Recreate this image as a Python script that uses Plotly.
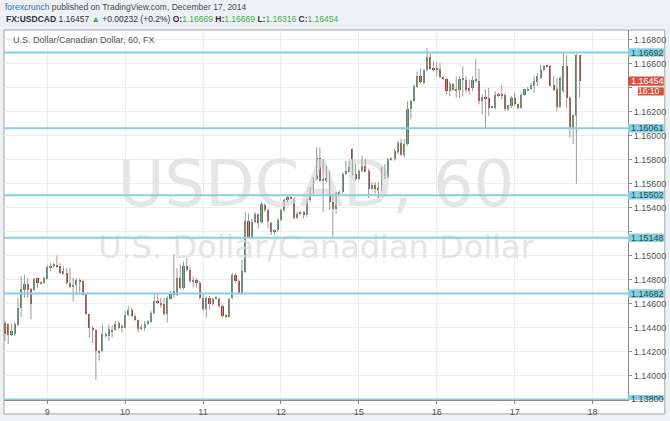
import plotly.graph_objects as go

# ---------------- data (USD/CAD, 60-minute candles, Dec 8-17 2014) ----------------
opens = [1.14441, 1.14426, 1.14338, 1.14344, 1.14421, 1.14559, 1.14716, 1.14763, 1.14724, 1.14716,
         1.14812, 1.14763, 1.14771, 1.14807, 1.14901, 1.14909, 1.14923, 1.14909, 1.14867, 1.14854,
         1.14771, 1.14735, 1.14752, 1.14799, 1.14790, 1.14680, 1.14509, 1.14399, 1.14382, 1.14206,
         1.14206, 1.14330, 1.14330, 1.14377, 1.14377, 1.14399, 1.14413, 1.14399, 1.14504, 1.14542,
         1.14495, 1.14459, 1.14385, 1.14399, 1.14426, 1.14448, 1.14523, 1.14619, 1.14606, 1.14597,
         1.14509, 1.14641, 1.14674, 1.14674, 1.14812, 1.14730, 1.14914, 1.14881, 1.14785, 1.14799,
         1.14771, 1.14647, 1.14550, 1.14647, 1.14597, 1.14639, 1.14641, 1.14578, 1.14504, 1.14487,
         1.14647, 1.14840, 1.14785, 1.14688, 1.14862, 1.15286, 1.15157, 1.15281, 1.15342, 1.15281,
         1.15424, 1.15377, 1.15275, 1.15193, 1.15212, 1.15295, 1.15377, 1.15460, 1.15488, 1.15474,
         1.15314, 1.15363, 1.15363, 1.15336, 1.15460, 1.15543, 1.15639, 1.15810, 1.15625, 1.15625,
         1.15639, 1.15446, 1.15391, 1.15515, 1.15529, 1.15681, 1.15700, 1.15887, 1.15681, 1.15634,
         1.15708, 1.15749, 1.15708, 1.15557, 1.15589, 1.15562, 1.15543, 1.15645, 1.15653, 1.15799,
         1.15805, 1.15860, 1.15937, 1.15838, 1.15929, 1.16218, 1.16287, 1.16406, 1.16494, 1.16439,
         1.16543, 1.16659, 1.16563, 1.16549, 1.16555, 1.16488, 1.16472, 1.16370, 1.16433, 1.16389,
         1.16378, 1.16466, 1.16466, 1.16397, 1.16397, 1.16472, 1.16453, 1.16287, 1.16323, 1.16315,
         1.16232, 1.16232, 1.16342, 1.16342, 1.16342, 1.16218, 1.16246, 1.16315, 1.16259, 1.16232,
         1.16334, 1.16378, 1.16384, 1.16411, 1.16444, 1.16480, 1.16549, 1.16582, 1.16582, 1.16425,
         1.16384, 1.16240, 1.16370, 1.16582, 1.16315, 1.16067, 1.16163, 1.16669]
highs = [1.14454, 1.14432, 1.14432, 1.14441, 1.14647, 1.14826, 1.14840, 1.14812, 1.14730, 1.14812,
         1.14818, 1.14785, 1.14826, 1.14923, 1.14936, 1.14936, 1.15000, 1.14936, 1.14909, 1.14895,
         1.14895, 1.14812, 1.14812, 1.14807, 1.14799, 1.14688, 1.14509, 1.14413, 1.14385, 1.14210,
         1.14426, 1.14357, 1.14426, 1.14413, 1.14454, 1.14454, 1.14426, 1.14537, 1.14578, 1.14564,
         1.14509, 1.14468, 1.14426, 1.14454, 1.14459, 1.14537, 1.14674, 1.14674, 1.14647, 1.14647,
         1.14661, 1.14702, 1.15011, 1.14895, 1.14923, 1.14950, 1.14978, 1.14909, 1.14826, 1.14812,
         1.14785, 1.14688, 1.14661, 1.14661, 1.14652, 1.14661, 1.14652, 1.14592, 1.14509, 1.14647,
         1.14854, 1.14854, 1.14799, 1.14964, 1.15364, 1.15350, 1.15308, 1.15363, 1.15350, 1.15446,
         1.15432, 1.15391, 1.15281, 1.15220, 1.15308, 1.15391, 1.15474, 1.15496, 1.15496, 1.15479,
         1.15363, 1.15369, 1.15369, 1.15474, 1.15570, 1.15653, 1.15901, 1.15901, 1.15805, 1.15749,
         1.15708, 1.15515, 1.15529, 1.15543, 1.15694, 1.15791, 1.15791, 1.15893, 1.15763, 1.15722,
         1.15832, 1.15805, 1.15722, 1.15612, 1.15612, 1.15612, 1.15736, 1.15763, 1.15810, 1.15818,
         1.15887, 1.15956, 1.15975, 1.15970, 1.16287, 1.16301, 1.16425, 1.16535, 1.16563, 1.16555,
         1.16728, 1.16681, 1.16618, 1.16610, 1.16604, 1.16494, 1.16480, 1.16453, 1.16439, 1.16494,
         1.16494, 1.16577, 1.16494, 1.16466, 1.16494, 1.16637, 1.16555, 1.16342, 1.16384, 1.16397,
         1.16246, 1.16370, 1.16356, 1.16425, 1.16356, 1.16259, 1.16328, 1.16356, 1.16268, 1.16356,
         1.16389, 1.16406, 1.16439, 1.16494, 1.16521, 1.16590, 1.16590, 1.16590, 1.16590, 1.16494,
         1.16480, 1.16494, 1.16701, 1.16673, 1.16328, 1.16177, 1.16681, 1.16669]
lows = [1.14288, 1.14261, 1.14330, 1.14330, 1.14413, 1.14487, 1.14647, 1.14647, 1.14468, 1.14702,
        1.14730, 1.14757, 1.14763, 1.14799, 1.14867, 1.14895, 1.14895, 1.14845, 1.14840, 1.14757,
        1.14730, 1.14614, 1.14674, 1.14674, 1.14666, 1.14504, 1.14316, 1.14269, 1.13963, 1.14123,
        1.14192, 1.14316, 1.14288, 1.14316, 1.14371, 1.14385, 1.14357, 1.14393, 1.14495, 1.14487,
        1.14454, 1.14357, 1.14377, 1.14371, 1.14421, 1.14441, 1.14509, 1.14592, 1.14564, 1.14495,
        1.14441, 1.14633, 1.14647, 1.14661, 1.14716, 1.14716, 1.14867, 1.14771, 1.14735, 1.14730,
        1.14633, 1.14537, 1.14481, 1.14550, 1.14578, 1.14633, 1.14564, 1.14487, 1.14476, 1.14481,
        1.14633, 1.14771, 1.14674, 1.14674, 1.14854, 1.15143, 1.15143, 1.15267, 1.15226, 1.15267,
        1.15363, 1.15226, 1.15170, 1.15176, 1.15198, 1.15286, 1.15363, 1.15446, 1.15468, 1.15303,
        1.15303, 1.15336, 1.15308, 1.15322, 1.15446, 1.15515, 1.15625, 1.15612, 1.15363, 1.15612,
        1.15377, 1.15157, 1.15350, 1.15508, 1.15515, 1.15672, 1.15694, 1.15667, 1.15625, 1.15625,
        1.15694, 1.15694, 1.15479, 1.15543, 1.15515, 1.15479, 1.15535, 1.15639, 1.15645, 1.15791,
        1.15791, 1.15846, 1.15832, 1.15818, 1.15915, 1.16135, 1.16279, 1.16397, 1.16433, 1.16425,
        1.16535, 1.16549, 1.16535, 1.16494, 1.16480, 1.16466, 1.16342, 1.16328, 1.16370, 1.16315,
        1.16315, 1.16328, 1.16356, 1.16342, 1.16370, 1.16439, 1.16259, 1.16177, 1.16058, 1.16163,
        1.16224, 1.16218, 1.16323, 1.16301, 1.16204, 1.16204, 1.16232, 1.16246, 1.16218, 1.16224,
        1.16328, 1.16370, 1.16378, 1.16356, 1.16411, 1.16472, 1.16535, 1.16570, 1.16411, 1.16370,
        1.16204, 1.16232, 1.16356, 1.16232, 1.15984, 1.15929, 1.15598, 1.16316]
closes = [1.14344, 1.14338, 1.14371, 1.14426, 1.14564, 1.14724, 1.14763, 1.14716, 1.14597, 1.14804,
          1.14771, 1.14779, 1.14812, 1.14903, 1.14914, 1.14928, 1.14909, 1.14854, 1.14845, 1.14771,
          1.14735, 1.14752, 1.14799, 1.14785, 1.14674, 1.14509, 1.14393, 1.14377, 1.14206, 1.14195,
          1.14344, 1.14344, 1.14385, 1.14366, 1.14432, 1.14441, 1.14399, 1.14504, 1.14542, 1.14495,
          1.14459, 1.14385, 1.14404, 1.14426, 1.14454, 1.14523, 1.14619, 1.14606, 1.14592, 1.14509,
          1.14647, 1.14680, 1.14702, 1.14812, 1.14730, 1.14909, 1.14881, 1.14785, 1.14799, 1.14771,
          1.14647, 1.14550, 1.14647, 1.14592, 1.14641, 1.14647, 1.14578, 1.14495, 1.14487, 1.14633,
          1.14840, 1.14785, 1.14688, 1.14867, 1.15287, 1.15157, 1.15281, 1.15342, 1.15275, 1.15432,
          1.15377, 1.15286, 1.15193, 1.15212, 1.15295, 1.15377, 1.15460, 1.15488, 1.15474, 1.15314,
          1.15350, 1.15350, 1.15336, 1.15460, 1.15543, 1.15645, 1.15810, 1.15625, 1.15639, 1.15645,
          1.15446, 1.15385, 1.15515, 1.15529, 1.15681, 1.15708, 1.15736, 1.15681, 1.15634, 1.15708,
          1.15749, 1.15700, 1.15557, 1.15589, 1.15551, 1.15543, 1.15653, 1.15661, 1.15805, 1.15810,
          1.15873, 1.15937, 1.15838, 1.15929, 1.16218, 1.16287, 1.16411, 1.16494, 1.16444, 1.16543,
          1.16659, 1.16555, 1.16543, 1.16557, 1.16488, 1.16472, 1.16370, 1.16433, 1.16378, 1.16378,
          1.16472, 1.16472, 1.16378, 1.16370, 1.16466, 1.16453, 1.16287, 1.16323, 1.16309, 1.16232,
          1.16237, 1.16342, 1.16334, 1.16334, 1.16218, 1.16251, 1.16315, 1.16259, 1.16232, 1.16337,
          1.16384, 1.16389, 1.16425, 1.16453, 1.16494, 1.16549, 1.16577, 1.16577, 1.16417, 1.16378,
          1.16240, 1.16480, 1.16582, 1.16315, 1.16067, 1.16168, 1.16669, 1.16454]

day_labels = ["9", "10", "11", "12", "15", "16", "17", "18"]
day_start_index = [13, 37, 61, 85, 109, 133, 157, 181]   # candle index where each day begins
price_ticks = [1.138, 1.140, 1.142, 1.144, 1.146, 1.148, 1.150, 1.152,
               1.154, 1.156, 1.158, 1.160, 1.162, 1.164, 1.166, 1.168]
hidden_tick_labels = [1.138, 1.152, 1.164]   # covered by the price labels in the original
level_lines = [1.16692, 1.16061, 1.15502, 1.15148, 1.14682, 1.13800]
countdown = "16:10"

# ---------------- styles ----------------
W, H = 670, 421
ML, MR, MT, MB = 4, 39, 30, 19
PW, PH = W - ML - MR, H - MT - MB
GREEN, RED, WICK = "#4a895a", "#a5382a", "#9a9a9a"
CYAN = "#86d1e0"
BG = "#eef1f4"
FONT = "Liberation Sans, Arial, sans-serif"
x_range = [-0.3, 191.9]
y_range = [1.13795, 1.16880]

n = len(closes)
idx = list(range(n))

fig = go.Figure()

# watermark (drawn first, behind the candles)
xm = (x_range[0] + x_range[1]) / 2
fig.add_trace(go.Scatter(
    x=[xm, xm],
    y=[y_range[0] + 0.567 * (y_range[1] - y_range[0]),
       y_range[0] + 0.405 * (y_range[1] - y_range[0])],
    mode="text", text=["USDCAD, 60", "U.S. Dollar/Canadian Dollar"],
    textfont=dict(family="DejaVu Sans", size=[64, 32], color="#e5e5e5"),
    hoverinfo="skip", showlegend=False, cliponaxis=False))

# wicks
wx, wy = [], []
for i in idx:
    wx += [i, i, None]
    wy += [lows[i], highs[i], None]
fig.add_trace(go.Scatter(x=wx, y=wy, mode="lines",
                         line=dict(color=WICK, width=1),
                         hoverinfo="skip", showlegend=False))

# bodies
base = [min(o, c) for o, c in zip(opens, closes)]
size = [max(abs(c - o), 0.00009) for o, c in zip(opens, closes)]
cols = [GREEN if c >= o else RED for o, c in zip(opens, closes)]
fig.add_trace(go.Bar(x=idx, y=size, base=base, width=0.66,
                     marker=dict(color=cols, line=dict(width=0)),
                     hoverinfo="skip", showlegend=False))

shapes = []
annotations = []
# outer chart frame
shapes.append(dict(type="rect", xref="paper", yref="paper", x0=0, x1=(W - 2 - ML) / PW,
                   y0=-(H - 5 - MT - PH) / PH, y1=1, layer="below",
                   line=dict(color="#a3a3a3", width=1), fillcolor="white"))
x_lab1 = (W - 3 - ML) / PW
for lv in level_lines:
    shapes.append(dict(type="line", xref="paper", yref="y", x0=0, x1=1, y0=lv, y1=lv,
                       line=dict(color=CYAN, width=2), layer="above"))
    shapes.append(dict(type="rect", xref="paper", yref="y", x0=1, x1=x_lab1,
                       y0=lv - 0.00036, y1=lv + 0.00036, fillcolor=CYAN,
                       line=dict(width=0), layer="above"))
    annotations.append(dict(xref="paper", yref="y", x=1, y=lv, xanchor="left", xshift=1,
                            yanchor="middle", text=f"{lv:.5f}", showarrow=False,
                            font=dict(family=FONT, size=9, color="#2b4a52")))

# last price label
last = closes[-1]
shapes.append(dict(type="rect", xref="paper", yref="y", x0=1, x1=x_lab1,
                   y0=last - 0.00038, y1=last + 0.00038, fillcolor="#d9503f",
                   line=dict(width=0), layer="above"))
shapes.append(dict(type="rect", xref="paper", yref="y", x0=(641 - ML) / PW, x1=x_lab1,
                   y0=last - 0.00120, y1=last - 0.00052, fillcolor="#d9503f",
                   line=dict(width=0), layer="above"))
annotations.append(dict(xref="paper", yref="y", x=1, y=last, xanchor="left", xshift=1,
                        yanchor="middle", text=f"{last:.5f}", showarrow=False,
                        font=dict(family=FONT, size=9, color="white")))
annotations.append(dict(xref="paper", yref="y", x=x_lab1, y=last - 0.00086, xanchor="right",
                        xshift=-2, yanchor="middle", text=countdown, showarrow=False,
                        font=dict(family=FONT, size=8.5, color="white")))

# chart title inside
annotations.append(dict(xref="paper", yref="paper", x=(11 - ML) / PW, y=(MT + PH - 40) / PH,
                        xanchor="left", yanchor="middle", showarrow=False,
                        text="U.S. Dollar/Canadian Dollar, 60, FX",
                        font=dict(family=FONT, size=9, color="#555555")))
# header lines
G = "#3bb04a"
annotations.append(dict(xref="paper", yref="paper", x=(3 - ML) / PW, y=(MT + PH - 7) / PH,
                        xanchor="left", yanchor="middle", showarrow=False,
                        text="<span style='color:#2f78c4'>forexcrunch</span> published on TradingView.com, December 17, 2014",
                        font=dict(family=FONT, size=8.5, color="#4a4a4a")))
hdr2 = (f"<b>FX:USDCAD</b> 1.16457 <span style='color:{G}'>▲</span> +0.00232 (+0.2%) "
        f"<b>O:</b><span style='color:{G}'>{opens[-1]:.5f}</span> "
        f"<b>H:</b><span style='color:{G}'>{highs[-1]:.5f}</span> "
        f"<b>L:</b><span style='color:{G}'>{lows[-1]:.5f}</span> "
        f"<b>C:</b><span style='color:{G}'>{closes[-1]:.5f}</span>")
annotations.append(dict(xref="paper", yref="paper", x=(4 - ML) / PW, y=(MT + PH - 19) / PH,
                        xanchor="left", yanchor="middle", showarrow=False, text=hdr2,
                        font=dict(family=FONT, size=8.5, color="#333333")))

tick_text = ["" if t in hidden_tick_labels else f"{t:.5f}" for t in price_ticks]

fig.update_layout(
    width=W, height=H, margin=dict(l=ML, r=MR, t=MT, b=MB, pad=0),
    paper_bgcolor=BG, plot_bgcolor="white", showlegend=False,
    shapes=shapes, annotations=annotations,
    xaxis=dict(range=x_range, tickvals=day_start_index, ticktext=day_labels,
               showgrid=True, gridcolor="#ededed", gridwidth=1, zeroline=False,
               showline=True, linecolor="#8a8a8a", linewidth=1,
               ticks="outside", ticklen=3, tickcolor="#8a8a8a",
               tickfont=dict(family=FONT, size=9, color="#555555"), fixedrange=True),
    yaxis=dict(range=y_range, side="right", tickvals=price_ticks, ticktext=tick_text,
               showgrid=True, gridcolor="#ededed", gridwidth=1, zeroline=False,
               showline=True, linecolor="#8a8a8a", linewidth=1,
               ticks="outside", ticklen=3, tickcolor="#8a8a8a",
               tickfont=dict(family=FONT, size=9, color="#555555"), fixedrange=True),
    bargap=0,
)

fig.write_html("out.html", config={"displayModeBar": False},
               post_script="document.body.style.margin='0px';document.body.style.overflow='hidden';")
